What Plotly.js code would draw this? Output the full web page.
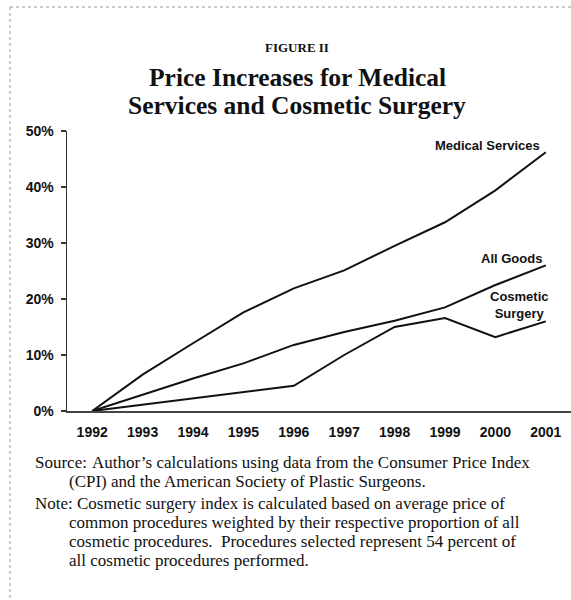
<!DOCTYPE html>
<html><head><meta charset="utf-8">
<script src="https://cdn.plot.ly/plotly-3.0.1.min.js"></script>
<style>html,body{margin:0;padding:0;background:#fff}</style>
</head><body>
<div id="chart" style="width:571px;height:600px"></div>
<script>
const years = [1992, 1993, 1994, 1995, 1996, 1997, 1998, 1999, 2000, 2001];
const medicalServices = [0, 6.5, 12.1, 17.6, 21.9, 25.1, 29.5, 33.7, 39.4, 46.2];
const allGoods = [0, 2.9, 5.8, 8.5, 11.8, 14.1, 16.1, 18.5, 22.5, 26.0];
const cosmeticSurgery = [0, 1.1, 2.3, 3.4, 4.5, 10.0, 15.0, 16.6, 13.2, 16.0];
const yTickVals = [0, 10, 20, 30, 40, 50];
const yTickText = ['0%', '10%', '20%', '30%', '40%', '50%'];
const seriesNames = ['Medical Services', 'All Goods', 'Cosmetic<br>Surgery'];

const W = 571, H = 600;
const M = {l: 67, r: 0, t: 131, b: 189};
const pw = W - M.l - M.r, ph = H - M.t - M.b;
const px = x => (x - M.l) / pw;
const py = y => (H - M.b - y) / ph;

const lineStyle = {color: '#111', width: 2};
const traces = [
  {x: years, y: medicalServices, name: 'Medical Services'},
  {x: years, y: allGoods, name: 'All Goods'},
  {x: years, y: cosmeticSurgery, name: 'Cosmetic Surgery'}
].map(t => Object.assign(t, {type: 'scatter', mode: 'lines', line: lineStyle, hoverinfo: 'skip'}));

const sans = 'Liberation Sans, Arial, sans-serif';
const serif = 'Liberation Serif, Times New Roman, serif';
const last = years.length - 1;

const annotations = [
  {x: years[last], y: 47.4, xref: 'x', yref: 'y', text: seriesNames[0], xanchor: 'right', yanchor: 'middle', xshift: -4, showarrow: false,
   font: {family: sans, size: 13, color: '#111', weight: 'bold'}},
  {x: years[last], y: 27.3, xref: 'x', yref: 'y', text: seriesNames[1], xanchor: 'right', yanchor: 'middle', xshift: -2, showarrow: false,
   font: {family: sans, size: 13, color: '#111', weight: 'bold'}},
  {x: years[last], y: 18.9, xref: 'x', yref: 'y', text: seriesNames[2], xanchor: 'center', yanchor: 'middle', xshift: -26, showarrow: false,
   font: {family: sans, size: 13, color: '#111', weight: 'bold'}},
  {x: px(297), y: py(48), xref: 'paper', yref: 'paper', text: 'FIGURE II', xanchor: 'center', yanchor: 'middle', showarrow: false,
   font: {family: serif, size: 13, color: '#111', weight: 'bold'}},
  {x: px(297), y: py(77), xref: 'paper', yref: 'paper', text: 'Price Increases for Medical', xanchor: 'center', yanchor: 'middle', showarrow: false,
   font: {family: serif, size: 25.5, color: '#111', weight: 'bold'}},
  {x: px(297), y: py(105), xref: 'paper', yref: 'paper', text: 'Services and Cosmetic Surgery', xanchor: 'center', yanchor: 'middle', showarrow: false,
   font: {family: serif, size: 25.5, color: '#111', weight: 'bold'}}
];

const footer = [
  [33, 462, 'Source:'],
  [90, 462, 'Author\u2019s calculations using data from the Consumer Price Index'],
  [67, 481, '(CPI) and the American Society of Plastic Surgeons.'],
  [33, 503, 'Note: Cosmetic surgery index is calculated based on average price of'],
  [67, 522, 'common procedures weighted by their respective proportion of all'],
  [67, 541, 'cosmetic procedures.  Procedures selected represent 54 percent of'],
  [67, 560, 'all cosmetic procedures performed.']
];
footer.forEach(([x, y, t]) => annotations.push({
  x: px(x), y: py(y), xref: 'paper', yref: 'paper', text: t, xanchor: 'left', yanchor: 'middle', showarrow: false,
  font: {family: serif, size: 17, color: '#111'}
}));

const shapes = [
  {type: 'line', xref: 'paper', yref: 'paper', x0: px(10), x1: px(571), y0: py(7), y1: py(7), line: {color: '#999', width: 1, dash: 'dot'}},
  {type: 'line', xref: 'paper', yref: 'paper', x0: px(10), x1: px(10), y0: py(7), y1: py(600), line: {color: '#999', width: 1, dash: 'dot'}}
];

const layout = {
  width: W, height: H, margin: M,
  paper_bgcolor: '#fff', plot_bgcolor: '#fff',
  showlegend: false,
  font: {family: sans, color: '#111'},
  xaxis: {
    range: [1991.5, 2001.5], tickvals: years, ticktext: years.map(String),
    showgrid: false, zeroline: false, showline: true, linecolor: '#444', linewidth: 1.5,
    ticks: '', ticklabelstandoff: 8,
    tickfont: {family: sans, size: 14, color: '#111', weight: 'bold'}
  },
  yaxis: {
    range: [0, 50], tickvals: yTickVals, ticktext: yTickText,
    showgrid: false, zeroline: false, showline: true, linecolor: '#333', linewidth: 1.5,
    ticks: 'outside', ticklen: 5, tickwidth: 1.2, tickcolor: '#333', ticklabelstandoff: 4,
    tickfont: {family: sans, size: 14, color: '#111', weight: 'bold'}
  },
  annotations: annotations,
  shapes: shapes
};

Plotly.newPlot('chart', traces, layout, {staticPlot: true, displayModeBar: false});
</script>
</body></html>
